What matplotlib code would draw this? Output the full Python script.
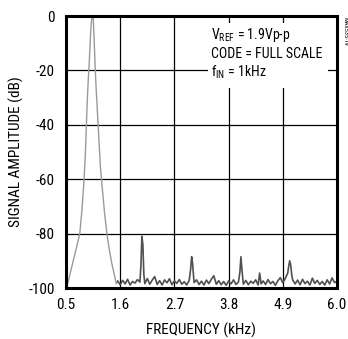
import matplotlib.pyplot as plt
from matplotlib import font_manager
from matplotlib.patches import Rectangle

# pick a narrow grotesque like the original artwork if one is installed
installed = {f.name for f in font_manager.fontManager.ttflist}
narrow_fonts = ["Liberation Sans Narrow", "Arial Narrow", "Nimbus Sans Narrow",
                "Roboto Condensed", "Archivo Narrow", "PT Sans Narrow",
                "Open Sans Condensed", "Barlow Semi Condensed", "Liberation Sans"]
font_name = next(n for n in narrow_fonts if n in installed or n == "Liberation Sans")

plt.rcParams['font.family'] = [font_name, 'DejaVu Sans']
plt.rcParams['mathtext.fontset'] = 'custom'
plt.rcParams['mathtext.rm'] = font_name
plt.rcParams['mathtext.it'] = font_name

# main tone around 1kHz: frequency (kHz), amplitude (dB)
tone_khz = [
    0.50, 0.52, 0.54, 0.58, 0.62, 0.66, 0.70, 0.74, 0.78, 0.82,
    0.86, 0.89, 0.91, 0.93, 0.95, 0.97, 0.99, 1.01, 1.03, 1.05,
    1.07, 1.09, 1.11, 1.14, 1.17, 1.20, 1.24, 1.28, 1.33, 1.38,
    1.43, 1.48, 1.52, 1.55,
]
tone_db = [
    -97.0, -99.0, -98.0, -95.0, -92.0, -89.0, -86.0, -83.0, -80.0, -72.0,
    -62.0, -52.0, -42.0, -32.0, -24.0, -18.0, -10.0, -3.0, 0.0, 0.0,
    -8.0, -18.0, -26.0, -36.0, -46.0, -56.0, -64.0, -72.0, -80.0, -86.0,
    -91.0, -95.0, -98.5, -97.5,
]

# noise floor with harmonics at 2, 3, 4 and 5kHz
floor_khz = [
    1.55, 1.60, 1.65, 1.70, 1.75, 1.80, 1.85, 1.90, 1.95, 2.00,
    2.02, 2.04, 2.06, 2.08,
    2.10, 2.15, 2.20, 2.25, 2.30, 2.35, 2.40, 2.45, 2.50, 2.55,
    2.60, 2.65, 2.70, 2.75, 2.80, 2.85, 2.90, 2.95, 3.00,
    3.03, 3.05, 3.07, 3.09,
    3.10, 3.15, 3.20, 3.25, 3.30, 3.35, 3.40, 3.45, 3.50, 3.55,
    3.60, 3.65, 3.70, 3.75, 3.80, 3.85, 3.90, 3.95, 4.00,
    4.03, 4.05, 4.07, 4.09,
    4.10, 4.15, 4.20, 4.25, 4.30, 4.35, 4.40, 4.43, 4.46, 4.50,
    4.55, 4.60, 4.65, 4.70, 4.75, 4.80, 4.85, 4.90, 4.95, 5.00,
    5.02, 5.04, 5.06, 5.08,
    5.10, 5.15, 5.20, 5.25, 5.30, 5.35, 5.40, 5.45, 5.50, 5.55,
    5.60, 5.65, 5.70, 5.75, 5.80, 5.85, 5.90, 5.95, 6.00,
]
floor_db = [
    -97.5, -98.8, -97.2, -98.5, -96.8, -98.9, -97.6, -98.2, -96.9, -97.8,
    -92.0, -81.0, -84.0, -95.0,
    -98.4, -96.5, -98.6, -97.1, -95.8, -98.7, -97.3, -98.9, -97.0, -98.1,
    -96.6, -98.8, -97.4, -98.3, -96.9, -98.6, -97.7, -98.9, -97.2,
    -93.0, -88.5, -91.0, -96.0,
    -98.0, -97.0, -98.7, -97.5, -98.9, -97.1, -98.4, -96.8, -95.5, -98.6,
    -97.3, -98.8, -97.6, -99.0, -97.4, -98.5, -97.0, -98.7, -97.8,
    -94.0, -88.5, -93.0, -97.0,
    -98.6, -97.2, -98.8, -97.5, -98.3, -97.0, -98.9, -94.5, -98.5, -97.4,
    -98.7, -96.9, -98.4, -97.6, -99.0, -97.3, -96.2, -98.1, -96.5, -94.5,
    -92.0, -90.0, -91.5, -95.0,
    -97.0, -98.5, -97.1, -98.8, -96.8, -98.4, -97.5, -98.9, -96.4, -98.3,
    -97.2, -98.7, -97.6, -98.9, -97.0, -98.5, -96.3, -98.0, -97.6,
]

x_ticks = [0.5, 1.6, 2.7, 3.8, 4.9, 6.0]
x_tick_labels = ["0.5", "1.6", "2.7", "3.8", "4.9", "6.0"]
y_ticks = [-100, -80, -60, -40, -20, 0]
y_tick_labels = ["-100", "-80", "-60", "-40", "-20", "0"]

fig = plt.figure(figsize=(3.48, 3.39), dpi=100)
ax = fig.add_axes([66 / 348, 1 - 288 / 339, 271 / 348, 272 / 339])

ax.plot(tone_khz, tone_db, color="#9a9a9a", linewidth=1.0, zorder=2)
ax.plot(floor_khz, floor_db, color="#505050", linewidth=1.2, zorder=2)

ax.set_xlim(0.5, 6.0)
ax.set_ylim(-100, 0)
ax.set_xticks(x_ticks)
ax.set_xticklabels(x_tick_labels)
ax.set_yticks(y_ticks)
ax.set_yticklabels(y_tick_labels)
ax.tick_params(length=0, labelsize=11, pad=7)
ax.tick_params(axis="y", pad=8)
ax.grid(True, color="black", linewidth=0.9)
ax.set_axisbelow(True)
for sp in ax.spines.values():
    sp.set_linewidth(2.2)

ax.set_xlabel("FREQUENCY (kHz)", fontsize=11, labelpad=8)
ax.set_ylabel("SIGNAL AMPLITUDE (dB)", fontsize=11, labelpad=3)

# white box behind the notes
ax.add_patch(Rectangle((3.38, -26.5), 2.43, 23.9, facecolor="white",
                       edgecolor="none", zorder=2.5))
ax.text(3.44, -8.5, r"V$_{\mathrm{REF}}$ = 1.9Vp-p", fontsize=10, va="baseline", zorder=3)
ax.text(3.44, -15.3, "CODE = FULL SCALE", fontsize=10, va="baseline", zorder=3)
ax.text(3.44, -22.2, r"f$_{\mathrm{IN}}$ = 1kHz", fontsize=10, va="baseline", zorder=3)

fig.text(0.991, 0.908, "MAX535-19", fontsize=4.5, rotation=270,
         ha="center", va="center")

plt.savefig("out.png", dpi=100)
